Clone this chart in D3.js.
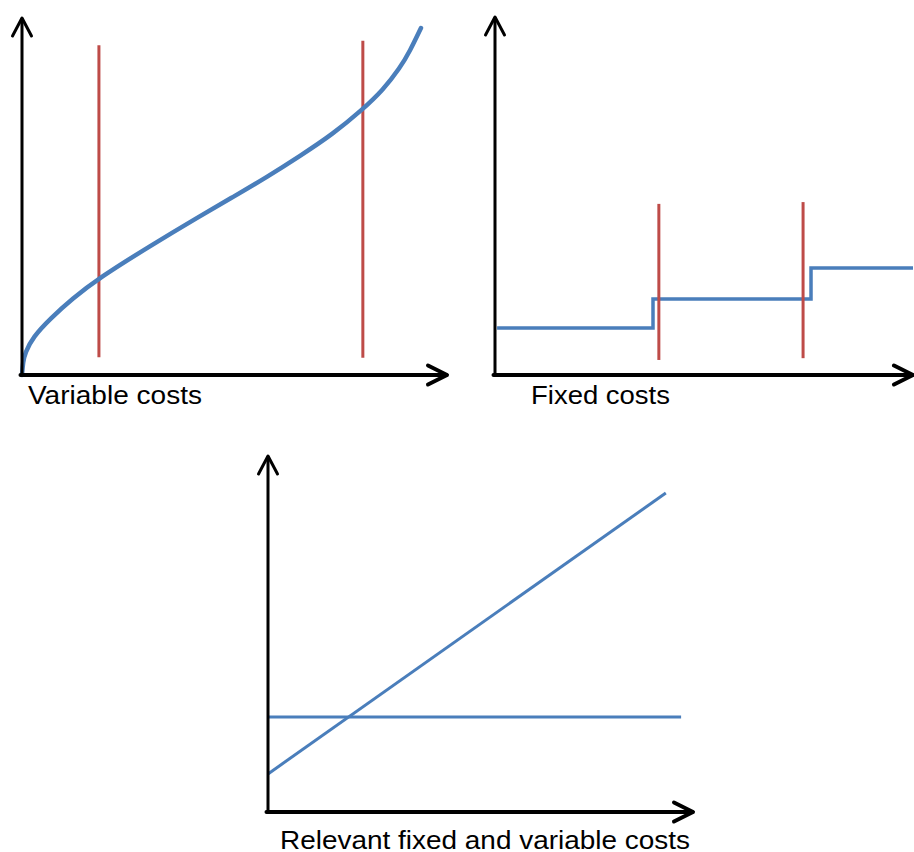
<!DOCTYPE html>
<html>
<head>
<meta charset="utf-8">
<script src="https://cdn.jsdelivr.net/npm/d3@7"></script>
<style>
  html, body { margin: 0; padding: 0; background: #fff; }
  svg { display: block; }
  text { font-family: "Liberation Sans", Arial, sans-serif; fill: #000; }
</style>
</head>
<body>
<script>
// ---------- DATA (units 0..100 on each panel's axes) ----------
const variableCurve = [
  [0, 0], [0.24, 3.64], [0.71, 6.16], [2.59, 10.64], [6.59, 15.69], [11.76, 21.29],
  [18.12, 27.17], [30.12, 36.13], [41.88, 44.54], [49.65, 49.86], [57.65, 55.46],
  [65.41, 61.34], [73.18, 67.51], [80.0, 74.23], [84.94, 79.83], [88.94, 85.99],
  [91.29, 90.76], [93.88, 97.2]
];
const variableLimits = [ // [x, yBottom, yTop]
  [18.1, 5.0, 92.4],
  [80.2, 4.8, 93.6]
];
const fixedSteps = [ // [xStart, xEnd, level]
  [0.5, 37.8, 13.1],
  [37.8, 75.6, 21.2],
  [75.6, 100, 29.9]
];
const fixedLimits = [
  [39.2, 4.2, 47.8],
  [73.7, 4.7, 48.3]
];
const relevantFixed = [[0, 26.7], [97.2, 26.7]];
const relevantVariable = [[0, 10.7], [93.6, 89.6]];
const labels = ["Variable costs", "Fixed costs", "Relevant fixed and variable costs"];

// ---------- SETUP ----------
const W = 914, H = 852;
const BLUE = "#4a7ebb", RED = "#be4b48";
const svg = d3.select("body").append("svg").attr("width", W).attr("height", H);
svg.append("rect").attr("width", W).attr("height", H).attr("fill", "#fff");

function panel(xr, yr) {
  return {
    x: d3.scaleLinear().domain([0, 100]).range(xr),
    y: d3.scaleLinear().domain([0, 100]).range(yr)
  };
}
const p1 = panel([22, 447], [375, 18]);
const p2 = panel([495, 913], [375, 17]);
const p3 = panel([268, 693], [812, 456]);

function axes(p) {
  const g = svg.append("g").attr("fill", "none").attr("stroke", "#000")
    .attr("stroke-linecap", "round").attr("stroke-linejoin", "round");
  const x0 = p.x(0), y0 = p.y(0), x1 = p.x(100), y1 = p.y(100);
  // y axis
  g.append("line").attr("x1", x0).attr("y1", y0).attr("x2", x0).attr("y2", y1 + 1)
    .attr("stroke-width", 3);
  g.append("polyline").attr("points", [[x0 - 9.5, y1 + 18], [x0, y1], [x0 + 9.5, y1 + 18]].join(" "))
    .attr("stroke-width", 3);
  // x axis
  g.append("line").attr("x1", x0 - 1.5).attr("y1", y0).attr("x2", x1 - 1).attr("y2", y0)
    .attr("stroke-width", 4);
  g.append("polyline").attr("points", [[x1 - 19, y0 - 9.5], [x1, y0], [x1 - 19, y0 + 9.5]].join(" "))
    .attr("stroke-width", 4);
}

function limits(p, data) {
  svg.append("g").selectAll("line").data(data).join("line")
    .attr("x1", d => p.x(d[0])).attr("x2", d => p.x(d[0]))
    .attr("y1", d => p.y(d[1])).attr("y2", d => p.y(d[2]))
    .attr("stroke", RED).attr("stroke-width", 3);
}

function label(txt, x, y, len) {
  svg.append("text").attr("x", x).attr("y", y).attr("font-size", 25)
    .attr("textLength", len).attr("lengthAdjust", "spacingAndGlyphs").text(txt);
}

// ---------- PANEL 1: Variable costs ----------
limits(p1, variableLimits);
svg.append("path").datum(variableCurve)
  .attr("d", d3.line().x(d => p1.x(d[0])).y(d => p1.y(d[1])).curve(d3.curveBasis))
  .attr("fill", "none").attr("stroke", BLUE).attr("stroke-width", 4.5).attr("stroke-linecap", "round");
axes(p1);
label(labels[0], 28, 404, 174);

// ---------- PANEL 2: Fixed costs ----------
const stepPts = [];
fixedSteps.forEach(s => { stepPts.push([s[0], s[2]]); stepPts.push([s[1], s[2]]); });
svg.append("path").datum(stepPts)
  .attr("d", d3.line().x(d => p2.x(d[0])).y(d => p2.y(d[1])))
  .attr("fill", "none").attr("stroke", BLUE).attr("stroke-width", 3.5);
limits(p2, fixedLimits);
axes(p2);
label(labels[1], 531, 404, 139);

// ---------- PANEL 3: Relevant fixed and variable costs ----------
const line3 = d3.line().x(d => p3.x(d[0])).y(d => p3.y(d[1]));
svg.append("path").datum(relevantFixed).attr("d", line3)
  .attr("fill", "none").attr("stroke", BLUE).attr("stroke-width", 3);
svg.append("path").datum(relevantVariable).attr("d", line3)
  .attr("fill", "none").attr("stroke", BLUE).attr("stroke-width", 3);
axes(p3);
label(labels[2], 280, 849, 410);
</script>
</body>
</html>
